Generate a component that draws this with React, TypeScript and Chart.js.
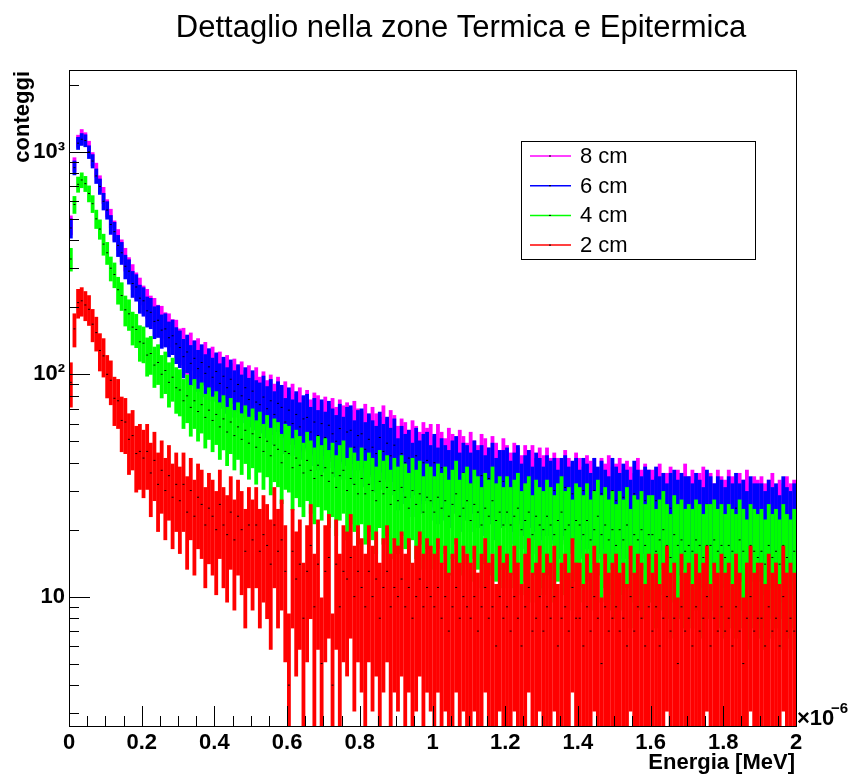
import React, { useEffect, useRef } from 'react';
import { Chart, registerables } from 'chart.js';

Chart.register(...registerables);

// Histogram binning (x in units of 10^-6 MeV)
const binWidth = 0.01;
// Visual spread of the dense ROOT error bars, in units of sqrt(N)
const errorBandScale = 2.2;

// Bin contents (200 bins, 0 .. 2 ×10^-6 MeV)
const counts8cm = [
  470, 880, 1120, 1190, 1150, 1050, 930, 830, 725, 640,
  560, 505, 445, 405, 362, 330, 298, 276, 252, 238,
  218, 210, 195, 190, 176, 174, 162, 160, 150, 149,
  135, 136, 124, 129, 118, 121, 112, 116, 106, 110,
  101, 104, 96, 100, 91, 96, 88, 93, 84, 89,
  80, 87, 78, 83, 75, 80, 72, 78, 70, 74,
  66, 72, 64, 69, 62, 67, 60, 65, 63, 58,
  62, 57, 61, 55, 60, 56, 58, 53, 59, 54,
  52, 57, 50, 55, 51, 49, 56, 48, 53, 50,
  44, 48, 46, 42, 47, 44, 41, 46, 43, 45,
  39, 45, 41, 38, 43, 40, 37, 42, 39, 36,
  41, 37, 35, 40, 38, 34, 39, 36, 33, 38,
  35, 32, 36, 34, 31, 35, 33, 35, 30, 34,
  31, 34, 30, 32, 30, 29, 33, 30, 28, 32,
  30, 27, 31, 29, 30, 26, 30, 28, 31, 27,
  28, 30, 26, 29, 27, 25, 30, 26, 28, 26,
  26, 24, 28, 25, 25, 27, 23, 26, 25, 28,
  24, 26, 23, 25, 27, 24, 25, 22, 26, 24,
  23, 26, 24, 22, 25, 23, 26, 22, 24, 23,
  24, 22, 23, 25, 21, 23, 22, 24, 22, 23,
];

const counts6cm = [
  455, 850, 1095, 1140, 1125, 1000, 910, 780, 700, 600,
  548, 472, 438, 380, 352, 306, 291, 256, 247, 220,
  214, 193, 190, 173, 175, 158, 160, 146, 149, 137,
  132, 120, 126, 112, 118, 106, 113, 101, 108, 97,
  103, 91, 98, 87, 95, 84, 90, 80, 87, 77,
  84, 75, 73, 79, 70, 76, 66, 74, 71, 61,
  69, 60, 66, 58, 63, 64, 55, 61, 53, 60,
  52, 59, 54, 50, 57, 49, 55, 56, 47, 53,
  54, 46, 51, 47, 44, 52, 45, 49, 43, 48,
  38, 44, 40, 42, 36, 43, 37, 40, 41, 35,
  40, 34, 38, 35, 33, 37, 39, 32, 36, 35,
  32, 37, 33, 35, 31, 34, 36, 30, 33, 33,
  34, 29, 32, 35, 28, 31, 33, 27, 32, 30,
  27, 31, 29, 30, 26, 30, 31, 27, 29, 30,
  26, 30, 28, 25, 30, 27, 29, 26, 24, 30,
  27, 25, 28, 26, 23, 29, 26, 24, 27, 26,
  23, 27, 24, 25, 22, 25, 26, 23, 25, 24,
  24, 22, 25, 23, 21, 26, 24, 22, 24, 23,
  21, 24, 22, 25, 22, 23, 20, 24, 22, 22,
  22, 20, 23, 21, 22, 19, 24, 21, 20, 22,
];

const counts4cm = [
  330, 580, 715, 748, 720, 650, 585, 500, 450, 385,
  352, 300, 281, 240, 226, 195, 187, 163, 159, 140,
  138, 122, 124, 110, 113, 100, 104, 92, 97, 87,
  85, 76, 80, 71, 76, 68, 73, 64, 69, 62,
  66, 58, 63, 55, 61, 53, 58, 51, 56, 49,
  54, 47, 52, 45, 50, 43, 48, 46, 40, 45,
  44, 38, 42, 39, 36, 41, 37, 34, 39, 35,
  38, 33, 36, 31, 35, 37, 30, 34, 32, 29,
  34, 29, 32, 30, 27, 33, 29, 31, 26, 30,
  27, 31, 28, 25, 30, 26, 29, 24, 28, 27,
  24, 28, 25, 27, 23, 26, 29, 23, 25, 27,
  22, 26, 24, 21, 25, 23, 27, 22, 24, 21,
  24, 21, 23, 25, 20, 22, 24, 19, 23, 21,
  20, 23, 21, 19, 22, 24, 20, 21, 18, 22,
  21, 19, 22, 18, 20, 23, 19, 21, 18, 20,
  17, 20, 18, 21, 16, 19, 18, 20, 17, 19,
  19, 16, 18, 20, 17, 15, 19, 17, 18, 16,
  17, 16, 18, 17, 15, 17, 17, 18, 16, 17,
  15, 17, 16, 15, 18, 16, 14, 17, 16, 15,
  16, 14, 17, 15, 16, 14, 17, 15, 14, 16,
];

const counts2cm = [
  92, 160, 210, 214, 205, 196, 168, 154, 128, 121,
  100, 94, 78, 76, 62, 61, 51, 53, 44, 45,
  42, 45, 36, 41, 32, 37, 30, 35, 28, 32,
  27, 32, 24, 30, 23, 28, 26, 21, 25, 23,
  20, 26, 21, 19, 24, 18, 23, 20, 16, 21,
  18, 21, 16, 19, 17, 14, 21, 16, 18, 13,
  4, 16, 12, 14, 8, 13, 17, 9, 14, 5,
  13, 15, 4, 14, 9, 13, 12, 15, 10, 13,
  11, 9, 13, 10, 12, 8, 11, 13, 9, 11,
  10, 12, 9, 11, 8, 10, 12, 9, 11, 10,
  9, 11, 8, 10, 7, 9, 11, 8, 10, 9,
  8, 10, 7, 9, 11, 8, 9, 6, 10, 8,
  9, 7, 10, 8, 6, 9, 11, 7, 8, 10,
  7, 9, 8, 10, 6, 8, 9, 7, 11, 8,
  8, 6, 9, 7, 10, 8, 5, 9, 7, 8,
  9, 7, 8, 6, 10, 7, 9, 8, 6, 9,
  7, 9, 6, 8, 10, 7, 8, 5, 9, 7,
  8, 6, 9, 7, 8, 10, 6, 8, 7, 9,
  7, 8, 6, 9, 7, 5, 8, 10, 7, 8,
  8, 6, 9, 7, 8, 6, 10, 7, 8, 7,
];

const seriesLabels = ['8 cm', '6 cm', '4 cm', '2 cm'];
const seriesColors = ['#ff00ff', '#0000ff', '#00ff00', '#ff0000'];
const seriesCounts = [counts8cm, counts6cm, counts4cm, counts2cm];

const xTickValues = [0, 0.2, 0.4, 0.6, 0.8, 1, 1.2, 1.4, 1.6, 1.8, 2];
const xTickLabels = ['0', '0.2', '0.4', '0.6', '0.8', '1', '1.2', '1.4', '1.6', '1.8', '2'];
const yMajorValues = [10, 100, 1000];
const yMajorLabels = ['10', '10²', '10³'];

const chartTitle = 'Dettaglio nella zone Termica e Epitermica';
const xAxisTitle = 'Energia [MeV]';
const yAxisTitle = 'conteggi';
const xExponentBase = '×10';
const xExponentPower = '−6';

const FONT = '"Liberation Sans", Arial, Helvetica, sans-serif';

const rootStylePlugin = {
  id: 'rootStyle',
  afterDatasetsDraw(chart: any) {
    const ctx = chart.ctx;
    const { left, right, top, bottom } = chart.chartArea;
    const xs = chart.scales.x;
    const ys = chart.scales.y;
    ctx.save();
    ctx.strokeStyle = '#000';
    ctx.lineWidth = 1;
    ctx.beginPath();
    for (let v = 0; v <= 2.0001; v += 0.05) {
      const px = Math.round(xs.getPixelForValue(v)) + 0.5;
      const isMajor = Math.abs(v / 0.2 - Math.round(v / 0.2)) < 1e-6;
      const len = isMajor ? 20 : 10;
      ctx.moveTo(px, bottom);
      ctx.lineTo(px, bottom - len);
    }
    const ymin = ys.min;
    const ymax = ys.max;
    for (let d = 1; d <= 1000; d *= 10) {
      for (let m = 1; m <= 9; m++) {
        const v = m * d;
        if (v < ymin || v > ymax) continue;
        const py = Math.round(ys.getPixelForValue(v)) + 0.5;
        const len = m === 1 ? 21 : 10;
        ctx.moveTo(left, py);
        ctx.lineTo(left + len, py);
      }
    }
    ctx.stroke();
    ctx.strokeRect(Math.round(left) + 0.5, Math.round(top) + 0.5, Math.round(right - left), Math.round(bottom - top));
    ctx.restore();
  },
  afterDraw(chart: any) {
    const ctx = chart.ctx;
    const { right } = chart.chartArea;
    ctx.save();
    ctx.fillStyle = '#000';
    ctx.font = `31px ${FONT}`;
    ctx.textAlign = 'center';
    ctx.textBaseline = 'alphabetic';
    ctx.fillText(chartTitle, 461, 37);
    ctx.font = `bold 22px ${FONT}`;
    ctx.textAlign = 'right';
    ctx.fillText(xAxisTitle, right - 1, 769);
    ctx.textAlign = 'left';
    ctx.fillText(xExponentBase, right + 1, 725);
    ctx.font = `bold 15px ${FONT}`;
    ctx.fillText(xExponentPower, right + 35, 713);
    ctx.save();
    ctx.translate(28.5, 71);
    ctx.rotate(-Math.PI / 2);
    ctx.font = `bold 22px ${FONT}`;
    ctx.textAlign = 'right';
    ctx.fillText(yAxisTitle, 0, 0);
    ctx.restore();
    const bx = 521.5, by = 141.5, bw = 234, bh = 118;
    ctx.fillStyle = '#fff';
    ctx.fillRect(bx, by, bw, bh);
    ctx.strokeStyle = '#000';
    ctx.lineWidth = 1;
    ctx.strokeRect(bx, by, bw, bh);
    ctx.font = `22px ${FONT}`;
    ctx.textAlign = 'left';
    ctx.textBaseline = 'middle';
    seriesLabels.forEach((lab, i) => {
      const ly = 156 + i * 29.7;
      ctx.strokeStyle = seriesColors[i];
      ctx.lineWidth = 1.5;
      ctx.beginPath();
      ctx.moveTo(530, ly);
      ctx.lineTo(571, ly);
      ctx.stroke();
      ctx.fillStyle = '#000';
      ctx.fillRect(549, ly - 0.5, 2, 1);
      ctx.fillText(lab, 580, ly + 1);
    });
    ctx.restore();
  },
};

export default function App() {
  const canvasRef = useRef<HTMLCanvasElement | null>(null);

  useEffect(() => {
    if (!canvasRef.current) return;
    const datasets: any[] = [];
    seriesCounts.forEach((counts, s) => {
      const order = (4 - s) * 2;
      datasets.push({
        type: 'bar',
        label: seriesLabels[s],
        data: counts.map((c, i) => ({
          x: (i + 0.5) * binWidth,
          y: [Math.max(c - errorBandScale * Math.sqrt(c), 0.5), c + errorBandScale * Math.sqrt(c)],
        })),
        backgroundColor: seriesColors[s],
        borderWidth: 0,
        grouped: false,
        barPercentage: 1.05,
        categoryPercentage: 1,
        order,
      });
      datasets.push({
        type: 'line',
        label: seriesLabels[s] + ' markers',
        data: counts.map((c, i) => ({ x: (i + 0.5) * binWidth, y: c })),
        showLine: false,
        pointStyle: 'line',
        pointRadius: 1,
        pointBorderWidth: 1,
        pointBorderColor: '#000',
        pointBackgroundColor: '#000',
        order: order - 1,
      });
    });

    const tickFont = { family: FONT, size: 22, weight: 'bold' as const };
    const chart = new Chart(canvasRef.current, {
      type: 'bar',
      data: { datasets },
      options: {
        animation: false,
        responsive: false,
        maintainAspectRatio: false,
        events: [],
        layout: { padding: { left: 0, top: 70, right: 57, bottom: 0 } },
        plugins: {
          legend: { display: false },
          title: { display: false },
          tooltip: { enabled: false },
        },
        scales: {
          x: {
            type: 'linear',
            min: 0,
            max: 2,
            offset: false,
            grid: { display: false, drawTicks: false },
            border: { display: false },
            afterBuildTicks: (scale: any) => {
              scale.ticks = xTickValues.map((v) => ({ value: v }));
            },
            afterFit: (scale: any) => {
              scale.height = 58;
            },
            ticks: {
              autoSkip: false,
              maxRotation: 0,
              minRotation: 0,
              padding: 4,
              color: '#000',
              font: tickFont,
              callback: (_v: any, idx: number) => xTickLabels[idx],
            },
          },
          y: {
            type: 'logarithmic',
            min: 2.62,
            max: 2336,
            grid: { display: false, drawTicks: false },
            border: { display: false },
            afterBuildTicks: (scale: any) => {
              scale.ticks = yMajorValues.map((v) => ({ value: v }));
            },
            afterFit: (scale: any) => {
              scale.width = 69;
            },
            ticks: {
              autoSkip: false,
              padding: 4,
              color: '#000',
              font: tickFont,
              callback: (_v: any, idx: number) => yMajorLabels[idx],
            },
          },
        },
      } as any,
      plugins: [rootStylePlugin],
    });
    return () => chart.destroy();
  }, []);

  return (
    <div style={{ position: 'absolute', left: 0, top: 0, width: 853, height: 784, background: '#fff' }}>
      <canvas ref={canvasRef} width={853} height={784} style={{ display: 'block' }} />
    </div>
  );
}
